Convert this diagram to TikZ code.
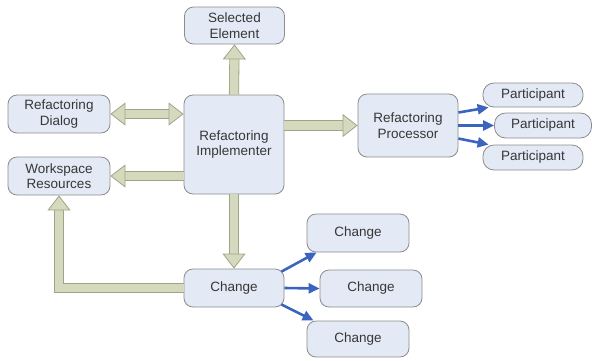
\documentclass[tikz,border=0pt]{standalone}
\usepackage{fontspec}
\setmainfont{Liberation Sans}
\usepackage{tikz}
\usetikzlibrary{arrows.meta}

\definecolor{boxfill}{RGB}{227,233,245}
\definecolor{boxline}{RGB}{140,140,140}
\definecolor{bigfill}{RGB}{213,217,190}
\definecolor{bigline}{RGB}{160,164,135}
\definecolor{flowblue}{RGB}{58,100,190}
\definecolor{txtgray}{RGB}{55,55,55}

\tikzset{
  box/.style={draw=boxline, fill=boxfill, line width=0.8pt, rounded corners=9pt,
    text=txtgray, align=center, inner sep=0pt,
    font=\fontsize{13.5}{15.5}\selectfont},
  pill/.style={box, rounded corners=11pt},
  bigtip/.style={Triangle[width=23pt,length=15pt,fill=bigfill,line width=0.8pt]},
  bigarrow/.style={draw=bigline, double=bigfill, double distance=8.5pt, line width=0.8pt,
    -{Triangle[width=23pt,length=15pt,fill=bigfill,line width=0.8pt]}},
  bigboth/.style={bigarrow,
    {Triangle[width=23pt,length=15pt,fill=bigfill,line width=0.8pt]}-{Triangle[width=23pt,length=15pt,fill=bigfill,line width=0.8pt]}},
  bluearrow/.style={draw=flowblue, line width=2.6pt, -{Triangle[width=10pt,length=11pt]}}
}

\begin{document}
\begin{tikzpicture}[x=1pt,y=1pt,yscale=-1,xscale=1]
\useasboundingbox (0,0) rectangle (592,360);

% Rounded Rect
\node [box, minimum width=100pt, minimum height=37pt] (sel) at (234.5,25.5) {Selected\\Element};
% Rounded Rect
\node [box, minimum width=102pt, minimum height=38pt] (dlg) at (59,114) {Refactoring\\Dialog};
% Rounded Rect
\node [box, minimum width=102pt, minimum height=38pt] (ws) at (59,176) {Workspace\\Resources};
% Rounded Rect
\node [box, minimum width=100pt, minimum height=99pt] (impl) at (234,144.5) {Refactoring\\Implementer};
% Rounded Rect
\node [box, minimum width=100pt, minimum height=63pt] (proc) at (408,125.5) {Refactoring\\Processor};
% Rounded Rect
\node [pill, minimum width=100pt, minimum height=24pt] (p1) at (533,95) {Participant};
% Rounded Rect
\node [pill, minimum width=97pt, minimum height=25pt] (p2) at (543,125.5) {Participant};
% Rounded Rect
\node [pill, minimum width=100pt, minimum height=25pt] (p3) at (533,157.5) {Participant};
% Rounded Rect
\node [box, minimum width=100pt, minimum height=38pt] (ch) at (234,288) {Change};
% Rounded Rect
\node [box, minimum width=102pt, minimum height=38pt] (c1) at (358,233) {Change};
% Rounded Rect
\node [box, minimum width=102pt, minimum height=37pt] (c2) at (371,288.5) {Change};
% Rounded Rect
\node [box, minimum width=102pt, minimum height=36pt] (c3) at (358,339) {Change};

% Block Arrows
\draw [bigarrow] (impl.north) -- (sel.south);
\draw [bigboth] (impl.west |- dlg.east) -- (dlg.east);
\draw [bigarrow] (impl.west |- ws.east) -- (ws.east);
\draw [bigarrow] (impl.east |- proc.west) -- (proc.west);
\draw [bigarrow] (impl.south) -- (ch.north);
\draw [bigarrow] (ch.west) -| (ws.south);

% Straight Lines
\draw [bluearrow] ([yshift=-13pt]proc.east) -- ([xshift=6pt]p1.south west);
\draw [bluearrow] (proc.east) -- (p2.west);
\draw [bluearrow] ([yshift=13pt]proc.east) -- ([xshift=6pt]p3.north west);
\draw [bluearrow] ([xshift=-3pt,yshift=3pt]ch.north east) -- ([xshift=10pt]c1.south west);
\draw [bluearrow] (ch.east) -- (c2.west);
\draw [bluearrow] ([xshift=-3pt,yshift=-3pt]ch.south east) -- ([xshift=7pt]c3.north west);

\end{tikzpicture}
\end{document}
